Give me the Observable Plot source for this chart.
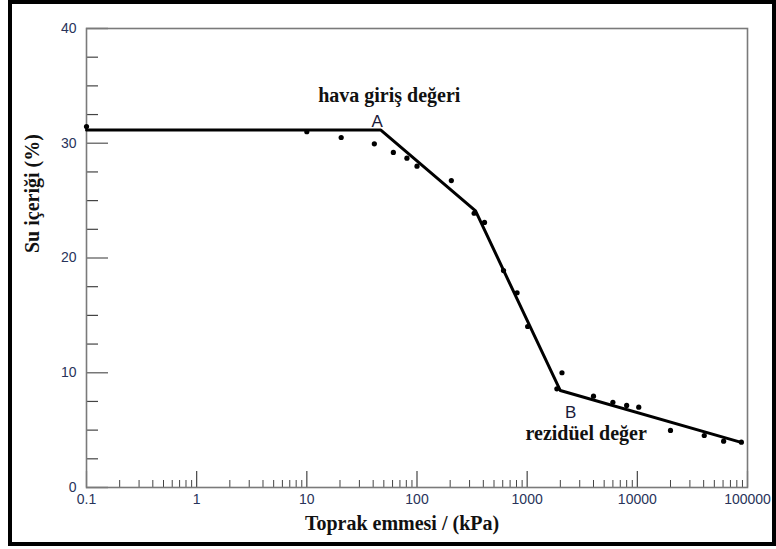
<!DOCTYPE html>
<html><head><meta charset="utf-8">
<script src="https://cdn.jsdelivr.net/npm/d3@7"></script>
<script src="https://cdn.jsdelivr.net/npm/@observablehq/plot@0.6"></script>
<style>
html,body{margin:0;padding:0;background:#fff;}
#wrap{position:relative;width:776px;height:549px;overflow:hidden;background:#fff;}
#border{position:absolute;left:8px;top:0;width:768px;height:546px;box-sizing:border-box;border:4px solid #000;pointer-events:none;}
</style></head><body>
<div id="wrap"><div id="chart"></div><div id="border"></div></div>
<script>
// measured points: soil suction (kPa) and water content (%)
const suction = [0.1, 10, 20.5, 41, 61, 81, 100, 205, 330, 410, 610, 810, 1010, 1860, 2070, 4000, 6000, 8000, 10300, 20000, 40500, 60700, 88000];
const water   = [31.45, 31.0, 30.5, 29.95, 29.2, 28.7, 28.0, 26.75, 23.9, 23.1, 18.9, 16.97, 14.03, 8.6, 10.0, 7.96, 7.43, 7.15, 7.0, 4.97, 4.53, 4.04, 3.95];
// fitted piecewise line
const fitSuction = [0.1, 47, 340, 2000, 86000];
const fitWater   = [31.15, 31.15, 24.1, 8.45, 3.95];
// axes
const xTicks = [0.1, 1, 10, 100, 1000, 10000, 100000];
const xTickLabels = ["0.1", "1", "10", "100", "1000", "10000", "100000"];
const yTicks = [0, 10, 20, 30, 40];
const yTickLabels = ["0", "10", "20", "30", "40"];
const yMinorStep = 2.5;
// texts
const xTitle = "Toprak emmesi / (kPa)";
const yTitle = "Su içeriği (%)";
const annotations = [
  {x: 56, y: 33.6, text: "hava giriş değeri", kind: "serif"},
  {x: 3430, y: 4.1, text: "rezidüel değer", kind: "serif"},
];
const pointLabels = [
  {x: 43.5, y: 31.4, text: "A"},
  {x: 2480, y: 6.07, text: "B"},
];

const W = 776, H = 549, mL = 86, mR = 29, mT = 28, mB = 62;
const fw = W - mL - mR, fh = H - mT - mB;

const xMinor = d3.scaleLog().domain([0.1, 100000]).ticks().filter(t => !xTicks.some(m => Math.abs(m - t) / m < 1e-9));
const yMinor = d3.range(0, 40 + 1e-9, yMinorStep).filter(v => !yTicks.includes(v));

const pts = suction.map((s, i) => ({s, w: water[i]}));
const fit = fitSuction.map((s, i) => ({s, w: fitWater[i]}));

const serif = "'Liberation Serif', 'Times New Roman', serif";
const sans = "'Liberation Sans', Arial, sans-serif";

const chart = Plot.plot({
  width: W, height: H,
  marginLeft: mL, marginRight: mR, marginTop: mT, marginBottom: mB,
  x: {type: "log", domain: [0.1, 100000]},
  y: {domain: [0, 40]},
  style: {fontFamily: sans, fontSize: "14px", background: "transparent", overflow: "visible"},
  marks: [
    Plot.tickX(xMinor, {x: d => d, insetTop: fh - 7, stroke: "#444", strokeWidth: 1}),
    Plot.tickX(xTicks, {x: d => d, insetTop: fh - 16, stroke: "#444", strokeWidth: 1.2}),
    Plot.tickY(yMinor, {y: d => d, insetRight: fw - 12, stroke: "#444", strokeWidth: 1.2}),
    Plot.tickY(yTicks, {y: d => d, insetRight: fw - 22, stroke: "#777", strokeWidth: 1.5}),
    Plot.frame({stroke: "#7a7a7a", strokeWidth: 1.6}),
    Plot.axisX(xTicks, {tickSize: 0, tickPadding: 7, tickFormat: d => xTickLabels[xTicks.indexOf(d)], color: "#28335a", fontSize: 14, label: null}),
    Plot.axisY(yTicks, {tickSize: 0, tickPadding: 10, tickFormat: d => yTickLabels[yTicks.indexOf(d)], color: "#28335a", fontSize: 14, label: null}),
    Plot.line(fit, {x: "s", y: "w", stroke: "#000", strokeWidth: 3, strokeLinejoin: "round"}),
    Plot.dot(pts, {x: "s", y: "w", r: 2.6, fill: "#000", stroke: null}),
    Plot.text(annotations, {x: "x", y: "y", text: "text", lineAnchor: "bottom", fontFamily: serif, fontWeight: "bold", fontSize: 20, fill: "#111", ariaLabel: "ann"}),
    Plot.text(pointLabels, {x: "x", y: "y", text: "text", lineAnchor: "bottom", fontFamily: sans, fontSize: 17, fill: "#1a1a3a"}),
    Plot.text([xTitle], {text: d => d, frameAnchor: "bottom", dx: -15, dy: 42, lineAnchor: "bottom", fontFamily: serif, fontWeight: "bold", fontSize: 20, fill: "#111", ariaLabel: "xtitle"}),
    Plot.text([yTitle], {text: d => d, frameAnchor: "left", dx: -54, dy: -5, rotate: -90, lineAnchor: "middle", fontFamily: serif, fontWeight: "bold", fontSize: 20, fill: "#111", ariaLabel: "ytitle"}),
  ]
});
document.getElementById("chart").appendChild(chart);

// widen serif titles to match the reference's letter widths
const svg = d3.select(chart);
svg.selectAll('g[aria-label="xtitle"] text').attr("textLength", 236).attr("lengthAdjust", "spacingAndGlyphs");
svg.selectAll('g[aria-label="ytitle"] text').attr("textLength", 143).attr("lengthAdjust", "spacingAndGlyphs");
const annLen = [172, 148];
svg.selectAll('g[aria-label="ann"] text').each(function(d, i) {
  d3.select(this).attr("textLength", annLen[i]).attr("lengthAdjust", "spacingAndGlyphs");
});
</script>
</body></html>
